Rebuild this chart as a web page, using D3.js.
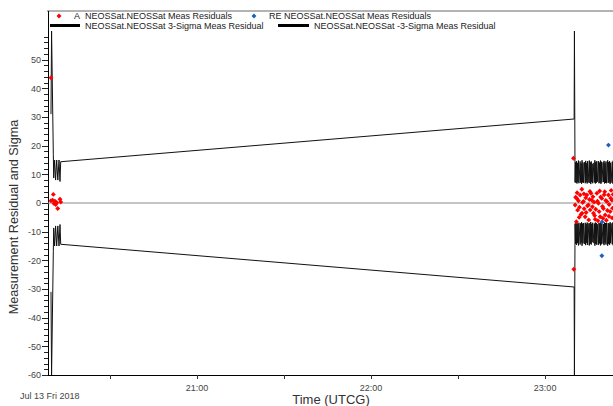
<!DOCTYPE html>
<html>
<head>
<meta charset="utf-8">
<script src="https://cdn.jsdelivr.net/npm/d3@7"></script>
<style>
  html, body { margin: 0; padding: 0; background: #fff; }
  svg { display: block; font-family: "Liberation Sans", Arial, sans-serif; }
</style>
</head>
<body>
<svg id="chart" width="613" height="406"></svg>
<script>
// ---- axis data ----
const timeDomain = ["20:08:36", "23:23:24"];
const yDomain = [-60, 60];
const yMajorTicks = [-60, -50, -40, -30, -20, -10, 0, 10, 20, 30, 40, 50];
const xTickLabels = ["21:00", "22:00", "23:00"];
const xMinorTicks = ["20:30", "21:30", "22:30"];
const dateLabel = "Jul 13 Fri 2018";

// ---- A residuals (red) ----
const residATimes = [
  "20:09:38", "20:09:38", "20:10:13", "20:10:26", "20:10:40", "20:11:01", "20:11:15",
  "20:11:36", "20:11:57", "20:12:44", "20:12:59",
  "23:09:46", "23:09:54",
  "23:10:21", "23:10:31", "23:10:46", "23:10:56", "23:11:02", "23:11:12", "23:11:29",
  "23:11:44", "23:11:50", "23:12:04", "23:12:21", "23:12:39", "23:12:44", "23:12:56",
  "23:13:13", "23:13:23", "23:13:27", "23:13:48", "23:14:00", "23:14:08", "23:14:23",
  "23:14:35", "23:14:56", "23:15:02", "23:15:17", "23:15:27", "23:15:31", "23:15:48",
  "23:16:06", "23:16:19", "23:16:29", "23:16:40", "23:16:54", "23:17:04", "23:17:15",
  "23:17:27", "23:17:50", "23:18:02", "23:18:12", "23:18:23", "23:18:37", "23:18:48",
  "23:18:58", "23:19:10", "23:19:33", "23:19:46", "23:19:56", "23:20:06", "23:20:21",
  "23:20:33", "23:20:42", "23:20:54", "23:21:07", "23:21:17", "23:21:29", "23:21:50",
  "23:22:00", "23:22:04", "23:22:25", "23:22:37", "23:22:46", "23:23:00", "23:23:06",
  "23:23:13", "23:23:27"
];
const residAValues = [
  43.7, 0.8, 1.0, 3.0, -0.2, 0.6, -0.5,
  0.1, -1.9, 1.3, 0.35,
  15.6, -23.1,
  -0.7, 2.0, -6.5, 1.6, 3.6, -2.5, 0.8,
  -5.0, -1.5, 2.8, -4.0, 4.8, -3.6, 0.2,
  0.5, 3.2, -2.0, -4.8, 1.8, -3.3, 2.8,
  -1.0, -0.7, -5.9, 1.2, 4.0, -2.4, 3.4,
  1.0, -1.3, 2.2, -3.6, 0.3, -4.4, -5.7,
  -2.2, 3.4, 0.6, -6.2, -0.1, -3.0, 4.2,
  -4.8, 2.1, 1.6, -1.2, -5.3, -1.9, 2.9,
  3.9, -4.2, 0.9, -6.0, 0.5, -2.6, 2.8,
  -4.6, -0.5, -3.0, 1.7, 4.4, 1.0, -5.2,
  -1.8, 3.0
];

// ---- RE residuals (blue) ----
const residRETimes = ["23:19:33", "23:19:38", "23:21:50"];
const residREValues = [-18.4, -6.6, 20.2];

// ---- 3-sigma envelope ----
const sigmaTimes = [
  "20:09:38", "20:09:50", "20:10:26", "20:10:34", "20:10:53", "20:11:13",
  "20:11:36", "20:11:59", "20:12:24", "20:12:44", "20:12:59",
  "23:10:00", "23:10:06", "23:10:19",
  "23:10:29", "23:10:39", "23:10:49", "23:10:59", "23:11:09", "23:11:19", "23:11:29", "23:11:39",
  "23:12:04", "23:12:14", "23:12:24", "23:12:34", "23:12:44", "23:12:54", "23:13:04", "23:13:14",
  "23:13:39", "23:13:49", "23:13:59", "23:14:09", "23:14:19", "23:14:29", "23:14:39", "23:14:49",
  "23:15:14", "23:15:24", "23:15:34", "23:15:44", "23:15:54", "23:16:04", "23:16:14", "23:16:24",
  "23:16:49", "23:16:59", "23:17:09", "23:17:19", "23:17:29", "23:17:39", "23:17:49", "23:17:59",
  "23:18:24", "23:18:34", "23:18:44", "23:18:54", "23:19:04", "23:19:14", "23:19:24", "23:19:34",
  "23:19:59", "23:20:09", "23:20:19", "23:20:29", "23:20:39", "23:20:49", "23:20:59", "23:21:09",
  "23:21:34", "23:21:44", "23:21:54", "23:22:04", "23:22:14", "23:22:24", "23:22:34", "23:22:44",
  "23:23:09", "23:23:19", "23:23:29", "23:23:39", "23:23:49", "23:23:59", "23:24:09", "23:24:19",
  "23:24:44", "23:24:54", "23:25:04", "23:25:14", "23:25:24", "23:25:34", "23:25:44", "23:25:54"
];
const sigmaPlus = [
  31, 60, 17, 8.7, 15, 8,
  15, 8, 15, 7.5, 14.4,
  29.3, 60, 7.2,
  14.2, 7.0, 14.6, 6.8, 14.0, 7.3, 14.8, 6.9,
  14.5, 7.1, 13.8, 6.7, 14.9, 7.2, 14.1, 7.0,
  14.3, 6.9, 14.7, 7.4, 13.9, 6.8, 14.6, 7.1,
  14.8, 7.0, 14.2, 6.6, 14.5, 7.3, 13.7, 6.9,
  14.0, 7.2, 14.9, 6.8, 14.3, 7.0, 14.6, 7.4,
  14.6, 6.9, 14.1, 7.1, 14.8, 6.7, 14.4, 7.2,
  14.2, 7.3, 14.7, 6.8, 13.9, 7.0, 14.5, 6.9,
  14.9, 7.0, 14.3, 7.2, 14.6, 6.7, 14.0, 7.1,
  14.4, 6.8, 14.8, 7.3, 14.1, 6.9, 14.7, 7.0,
  14.5, 7.1, 14.2, 6.8, 14.9, 7.2, 14.3, 7.0
];
const sigmaMinus = [
  -31, -60, -17, -8.7, -15, -8,
  -15, -8, -15, -7.5, -14.4,
  -29.3, -60, -7.2,
  -14.2, -7.0, -14.6, -6.8, -14.0, -7.3, -14.8, -6.9,
  -14.5, -7.1, -13.8, -6.7, -14.9, -7.2, -14.1, -7.0,
  -14.3, -6.9, -14.7, -7.4, -13.9, -6.8, -14.6, -7.1,
  -14.8, -7.0, -14.2, -6.6, -14.5, -7.3, -13.7, -6.9,
  -14.0, -7.2, -14.9, -6.8, -14.3, -7.0, -14.6, -7.4,
  -14.6, -6.9, -14.1, -7.1, -14.8, -6.7, -14.4, -7.2,
  -14.2, -7.3, -14.7, -6.8, -13.9, -7.0, -14.5, -6.9,
  -14.9, -7.0, -14.3, -7.2, -14.6, -6.7, -14.0, -7.1,
  -14.4, -6.8, -14.8, -7.3, -14.1, -6.9, -14.7, -7.0,
  -14.5, -7.1, -14.2, -6.8, -14.9, -7.2, -14.3, -7.0
];

// ---- legend ----
const legendPoints = [
  { tag: "A", label: "NEOSSat.NEOSSat Meas Residuals", color: "#ff0000" },
  { tag: "RE", label: "NEOSSat.NEOSSat Meas Residuals", color: "#1f5fbf" }
];
const legendLines = [
  "NEOSSat.NEOSSat 3-Sigma Meas Residual",
  "NEOSSat.NEOSSat -3-Sigma Meas Residual"
];

// ---- layout ----
const W = 613, H = 406;
const plot = { left: 48, right: 613, top: 11, bottom: 375 };

const parse = d3.timeParse("%H:%M:%S");
const parseHM = d3.timeParse("%H:%M");

const x = d3.scaleTime()
  .domain(timeDomain.map(parse))
  .range([plot.left, plot.right]);
const y = d3.scaleLinear()
  .domain(yDomain)
  .range([plot.bottom, 31]);

const svg = d3.select("#chart");

svg.append("defs").append("clipPath").attr("id", "plotClip")
  .append("rect")
  .attr("x", plot.left).attr("y", plot.top)
  .attr("width", plot.right - plot.left).attr("height", plot.bottom - plot.top + 1);

// frame: top border
svg.append("line")
  .attr("x1", plot.left - 1).attr("x2", W)
  .attr("y1", plot.top).attr("y2", plot.top)
  .attr("stroke", "#9a9a9a").attr("stroke-width", 1.5);

// y axis
const yMinor = d3.range(-60, 60, 2);
const yAxis = svg.append("g").attr("transform", `translate(${plot.left},0)`);
yAxis.selectAll("line.minor").data(yMinor).join("line")
  .attr("class", "minor")
  .attr("x1", d => yMajorTicks.includes(d) ? -6 : -4).attr("x2", 0)
  .attr("y1", d => Math.round(y(d)) + 0.5).attr("y2", d => Math.round(y(d)) + 0.5)
  .attr("stroke", "#222").attr("stroke-width", 1);
yAxis.selectAll("text").data(yMajorTicks).join("text")
  .attr("x", -7).attr("y", d => y(d) + 3.2)
  .attr("text-anchor", "end")
  .attr("font-size", 9).attr("fill", "#444")
  .text(d => d);
yAxis.append("line")
  .attr("x1", 0.5).attr("x2", 0.5)
  .attr("y1", plot.top).attr("y2", plot.bottom)
  .attr("stroke", "#000").attr("stroke-width", 1);

// x axis
const xAxis = svg.append("g").attr("transform", `translate(0,${plot.bottom})`);
xAxis.append("line")
  .attr("x1", plot.left).attr("x2", W)
  .attr("y1", 0.5).attr("y2", 0.5)
  .attr("stroke", "#000").attr("stroke-width", 1);
xAxis.selectAll("line.tick").data(xTickLabels.concat(xMinorTicks)).join("line")
  .attr("class", "tick")
  .attr("x1", d => Math.round(x(parseHM(d))) + 0.5)
  .attr("x2", d => Math.round(x(parseHM(d))) + 0.5)
  .attr("y1", 0).attr("y2", 4)
  .attr("stroke", "#333");
xAxis.selectAll("text.lab").data(xTickLabels).join("text")
  .attr("class", "lab")
  .attr("x", d => x(parseHM(d))).attr("y", 16)
  .attr("text-anchor", "middle")
  .attr("font-size", 9).attr("fill", "#444")
  .text(d => d);

svg.append("text")
  .attr("x", 20).attr("y", 399)
  .attr("font-size", 9).attr("fill", "#444")
  .text(dateLabel);

// axis titles
svg.append("text")
  .attr("x", 331).attr("y", 404)
  .attr("text-anchor", "middle")
  .attr("font-size", 13).attr("fill", "#333")
  .text("Time (UTCG)");
svg.append("text")
  .attr("transform", "translate(18,217) rotate(-90)")
  .attr("text-anchor", "middle")
  .attr("font-size", 12.7).attr("fill", "#333")
  .text("Measurement Residual and Sigma");

// plot content
const content = svg.append("g").attr("clip-path", "url(#plotClip)");

// zero reference line
content.append("line")
  .attr("x1", plot.left).attr("x2", W)
  .attr("y1", y(0)).attr("y2", y(0))
  .attr("stroke", "#8a8a8a").attr("stroke-width", 1);

const sigmaT = sigmaTimes.map(parse);
const line = d3.line().x(d => x(d[0])).y(d => y(d[1]));
content.append("path")
  .attr("d", line(sigmaT.map((t, i) => [t, sigmaPlus[i]])))
  .attr("fill", "none").attr("stroke", "#111").attr("stroke-width", 1);
content.append("path")
  .attr("d", line(sigmaT.map((t, i) => [t, sigmaMinus[i]])))
  .attr("fill", "none").attr("stroke", "#111").attr("stroke-width", 1);

const marker = d3.symbol().type(d3.symbolSquare).size(12);
content.selectAll("path.resA").data(residATimes.map((t, i) => [parse(t), residAValues[i]]))
  .join("path").attr("class", "resA")
  .attr("d", marker)
  .attr("transform", d => `translate(${x(d[0])},${y(d[1])}) rotate(45)`)
  .attr("fill", "#ff0000");
content.selectAll("path.resRE").data(residRETimes.map((t, i) => [parse(t), residREValues[i]]))
  .join("path").attr("class", "resRE")
  .attr("d", marker)
  .attr("transform", d => `translate(${x(d[0])},${y(d[1])}) rotate(45)`)
  .attr("fill", "#1f5fbf");

// legend
const lg = svg.append("g").attr("font-size", 9).attr("fill", "#222");
const pointX = [59, 254];
const tagX = [74, 269];
const textX = [85, 284];
legendPoints.forEach((d, i) => {
  lg.append("path").attr("d", marker)
    .attr("transform", `translate(${pointX[i]},16) rotate(45)`)
    .attr("fill", d.color);
  lg.append("text").attr("x", tagX[i]).attr("y", 19.2).text(d.tag);
  lg.append("text").attr("x", textX[i]).attr("y", 19.2).text(d.label);
});
const lineX = [[50, 80], [278, 309]];
const lineTextX = [85, 314];
legendLines.forEach((d, i) => {
  lg.append("line")
    .attr("x1", lineX[i][0]).attr("x2", lineX[i][1])
    .attr("y1", 25.5).attr("y2", 25.5)
    .attr("stroke", "#000").attr("stroke-width", 3);
  lg.append("text").attr("x", lineTextX[i]).attr("y", 28.8).text(d);
});
</script>
</body>
</html>
